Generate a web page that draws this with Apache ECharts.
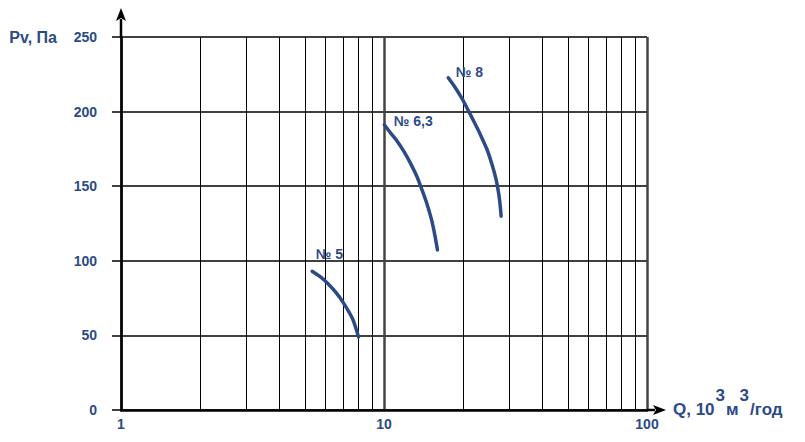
<!DOCTYPE html>
<html>
<head>
<meta charset="utf-8">
<script src="https://cdn.jsdelivr.net/npm/echarts/dist/echarts.min.js"></script>
<style>
html,body{margin:0;padding:0;background:#fff;}
#chart{width:805px;height:442px;}
</style>
</head>
<body>
<div id="chart"></div>
<script>
// ---- data ----
const seriesNames = ['№ 5', '№ 6,3', '№ 8'];
const q5 = [5.33, 5.7, 6.1, 6.55, 7.0, 7.6, 8.0];
const pv5 = [93, 89.5, 85, 79, 72, 61, 49];
const q63 = [10.03, 10.6, 11.24, 11.9, 12.6, 13.34, 13.84, 14.54, 15.17, 15.6, 15.97];
const pv63 = [191.2, 185.6, 180.0, 173.3, 165.5, 156.5, 149.1, 138.6, 127.4, 117.4, 107.3];
const q8 = [17.55, 18.68, 19.78, 20.66, 21.92, 23.23, 24.64, 25.75, 26.68, 27.33, 27.71, 27.88];
const pv8 = [222.7, 216.0, 208.8, 202.6, 193.7, 184.7, 174.6, 164.5, 154.5, 144.4, 135.5, 129.9];
const xMin = 1, xMax = 100;
const yMin = 0, yMax = 250, yStep = 50;

const BLUE = '#2c4a86';
const FONT = '"Liberation Sans", Arial, sans-serif';

function pairs(xs, ys) { return xs.map((x, i) => [x, ys[i]]); }

const labelPos = [[4, -17], [10, -3], [8, -5]];
const curves = [pairs(q5, pv5), pairs(q63, pv63), pairs(q8, pv8)];

const chart = echarts.init(document.getElementById('chart'), null, {renderer: 'svg'});

const option = {
  animation: false,
  backgroundColor: '#fff',
  grid: {left: 121, right: 158, top: 37, bottom: 32, containLabel: false},
  xAxis: {
    type: 'log', logBase: 10, min: xMin, max: xMax,
    name: '{a|Q, 10}{s|3}{a|м}{s|3}{a|/год}',
    nameLocation: 'end', nameGap: 26,
    nameTextStyle: {
      align: 'left', verticalAlign: 'middle', padding: [0, 0, 16, 0],
      rich: {
        a: {fontFamily: FONT, fontWeight: 'bold', fontSize: 17, color: BLUE, lineHeight: 31, verticalAlign: 'bottom'},
        s: {fontFamily: FONT, fontWeight: 'bold', fontSize: 17, color: BLUE, lineHeight: 31, verticalAlign: 'top', padding: [0, 1, 0, 1]}
      }
    },
    axisLine: {show: true, onZero: false, lineStyle: {color: '#000', width: 2.5}},
    axisTick: {show: false},
    minorTick: {show: false, splitNumber: 9},
    axisLabel: {color: BLUE, fontFamily: FONT, fontWeight: 'bold', fontSize: 14, margin: 7},
    splitLine: {show: true, lineStyle: {color: '#444', width: 2.5}},
    minorSplitLine: {show: true, lineStyle: {color: '#000', width: 1}}
  },
  yAxis: {
    type: 'value', min: yMin, max: yMax, interval: yStep,
    name: 'Pv, Па', nameLocation: 'end', nameGap: 0,
    nameTextStyle: {color: BLUE, fontFamily: FONT, fontWeight: 'bold', fontSize: 16,
      align: 'right', verticalAlign: 'middle', padding: [0, 64, 0, 0]},
    axisLine: {show: true, onZero: false, lineStyle: {color: '#000', width: 2.5}},
    axisTick: {show: true, inside: false, length: 9, lineStyle: {color: '#000', width: 1.5}},
    axisLabel: {color: BLUE, fontFamily: FONT, fontWeight: 'bold', fontSize: 14, margin: 24},
    splitLine: {show: true, lineStyle: {color: '#000', width: 1.5}}
  },
  series: curves.map((d, i) => ({
    type: 'line',
    name: seriesNames[i],
    data: d,
    smooth: 0.25,
    symbol: 'circle',
    symbolSize: 1,
    showSymbol: true,
    showAllSymbol: true,
    itemStyle: {color: 'rgba(0,0,0,0)'},
    lineStyle: {color: BLUE, width: 3.5, cap: 'round', join: 'round'},
    emphasis: {disabled: true},
    silent: true,
    label: {
      show: true,
      position: labelPos[i],
      align: 'left',
      verticalAlign: 'middle',
      color: BLUE, fontFamily: FONT, fontWeight: 'bold', fontSize: 14,
      formatter: p => p.dataIndex === 0 ? p.seriesName : ''
    },
    labelLayout: {hideOverlap: false},
    z: 5
  }))
};

chart.setOption(option);

// axis arrow extensions
const tl = chart.convertToPixel({gridIndex: 0}, [xMin, yMax]);
const br = chart.convertToPixel({gridIndex: 0}, [xMax, yMin]);
const ax = tl[0], ty = tl[1], rx = br[0], by = br[1];
chart.setOption({
  graphic: [
    {type: 'line', shape: {x1: ax, y1: ty, x2: ax, y2: ty - 18}, style: {stroke: '#000', lineWidth: 2.5}, z: 10},
    {type: 'polygon', shape: {points: [[ax, ty - 29], [ax - 5, ty - 16], [ax, ty - 19], [ax + 5, ty - 16]]}, style: {fill: '#000'}, z: 10},
    {type: 'line', shape: {x1: rx, y1: by, x2: rx + 8, y2: by}, style: {stroke: '#000', lineWidth: 2.5}, z: 10},
    {type: 'polygon', shape: {points: [[rx + 19, by], [rx + 6, by - 5], [rx + 9, by], [rx + 6, by + 5]]}, style: {fill: '#000'}, z: 10}
  ]
});
</script>
</body>
</html>
